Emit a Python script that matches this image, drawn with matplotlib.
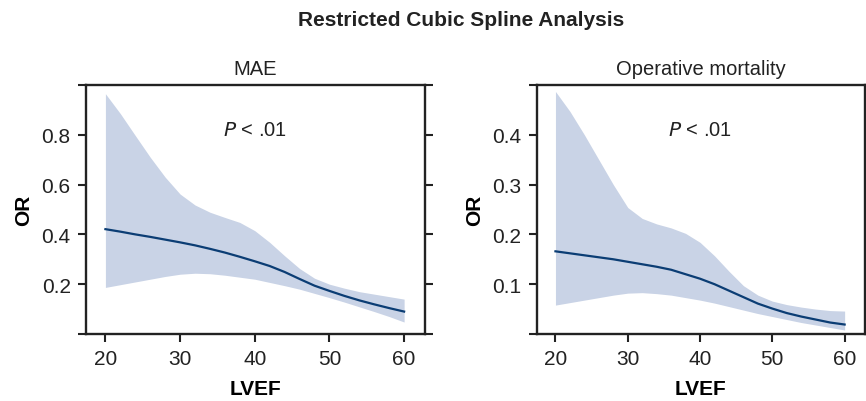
import numpy as np
import matplotlib.pyplot as plt

plt.rcParams['font.family'] = ['Liberation Sans', 'DejaVu Sans']

# LVEF grid and spline estimates (OR with 95% band)
lvef = [20, 22, 24, 26, 28, 30, 32, 34, 36, 38, 40, 42, 44, 46, 48, 50, 52, 54, 56, 58, 60]

mae_or = [0.421, 0.411, 0.400, 0.390, 0.379, 0.368, 0.356, 0.342, 0.327, 0.310, 0.292,
          0.273, 0.249, 0.221, 0.194, 0.173, 0.153, 0.135, 0.119, 0.104, 0.090]
mae_hi = [0.965, 0.885, 0.797, 0.710, 0.630, 0.562, 0.518, 0.489, 0.468, 0.448, 0.415,
          0.368, 0.314, 0.263, 0.224, 0.200, 0.184, 0.170, 0.160, 0.150, 0.140]
mae_lo = [0.187, 0.198, 0.209, 0.220, 0.231, 0.240, 0.244, 0.242, 0.236, 0.228, 0.220,
          0.207, 0.194, 0.180, 0.163, 0.146, 0.128, 0.109, 0.090, 0.070, 0.048]

mort_or = [0.166, 0.162, 0.158, 0.154, 0.150, 0.145, 0.140, 0.135, 0.129, 0.120, 0.111,
           0.100, 0.087, 0.074, 0.061, 0.051, 0.042, 0.035, 0.029, 0.023, 0.019]
mort_hi = [0.487, 0.447, 0.400, 0.350, 0.300, 0.254, 0.232, 0.221, 0.213, 0.202, 0.184,
           0.157, 0.126, 0.097, 0.078, 0.066, 0.059, 0.054, 0.050, 0.047, 0.046]
mort_lo = [0.058, 0.063, 0.068, 0.073, 0.078, 0.082, 0.083, 0.081, 0.078, 0.073, 0.068,
           0.062, 0.055, 0.048, 0.041, 0.035, 0.029, 0.023, 0.018, 0.013, 0.008]

band_col = '#c9d3e6'
line_col = '#0b3d74'

fig = plt.figure(figsize=(8.66, 4.02), dpi=100)
ax1 = fig.add_axes([0.0993, 0.1667, 0.3915, 0.6194])
ax2 = fig.add_axes([0.6197, 0.1667, 0.3790, 0.6194])

panels = [
    (ax1, 'MAE', mae_or, mae_lo, mae_hi, 1.0, [0, 0.2, 0.4, 0.6, 0.8, 1.0], 0.82),
    (ax2, 'Operative mortality', mort_or, mort_lo, mort_hi, 0.5, [0, 0.1, 0.2, 0.3, 0.4, 0.5], 0.41),
]

for ax, title, est, lo, hi, ymax, yt, py in panels:
    ax.fill_between(lvef, lo, hi, color=band_col, linewidth=0)
    ax.plot(lvef, est, color=line_col, linewidth=1.6)
    ax.set_xlim(17.4, 62.8)
    ax.set_ylim(0, ymax)
    ax.set_xticks([20, 30, 40, 50, 60])
    ax.set_yticks(yt)
    ax.set_yticklabels([''] + ['%g' % v for v in yt[1:-1]] + [''])
    ax.tick_params(axis='both', direction='out', length=6, width=1.5,
                   labelsize=15, colors='#222222', pad=5)
    ax.tick_params(axis='y', right=True)
    for s in ax.spines.values():
        s.set_linewidth(1.7)
        s.set_color('#222222')
    ax.set_title(title, fontsize=14.5, pad=8, color='#222222')
    ax.set_xlabel('LVEF', fontsize=15, fontweight='bold', labelpad=8)
    ax.set_ylabel('OR', fontsize=15, fontweight='bold', labelpad=6)
    ax.text(40, py, r'$\it{P}$ < .01', ha='center', va='center', fontsize=14.5, color='#222222')

fig.text(0.532, 0.95, 'Restricted Cubic Spline Analysis', ha='center', va='center',
         fontsize=15, fontweight='bold', color='#222222')

fig.savefig('out.png', dpi=100)
